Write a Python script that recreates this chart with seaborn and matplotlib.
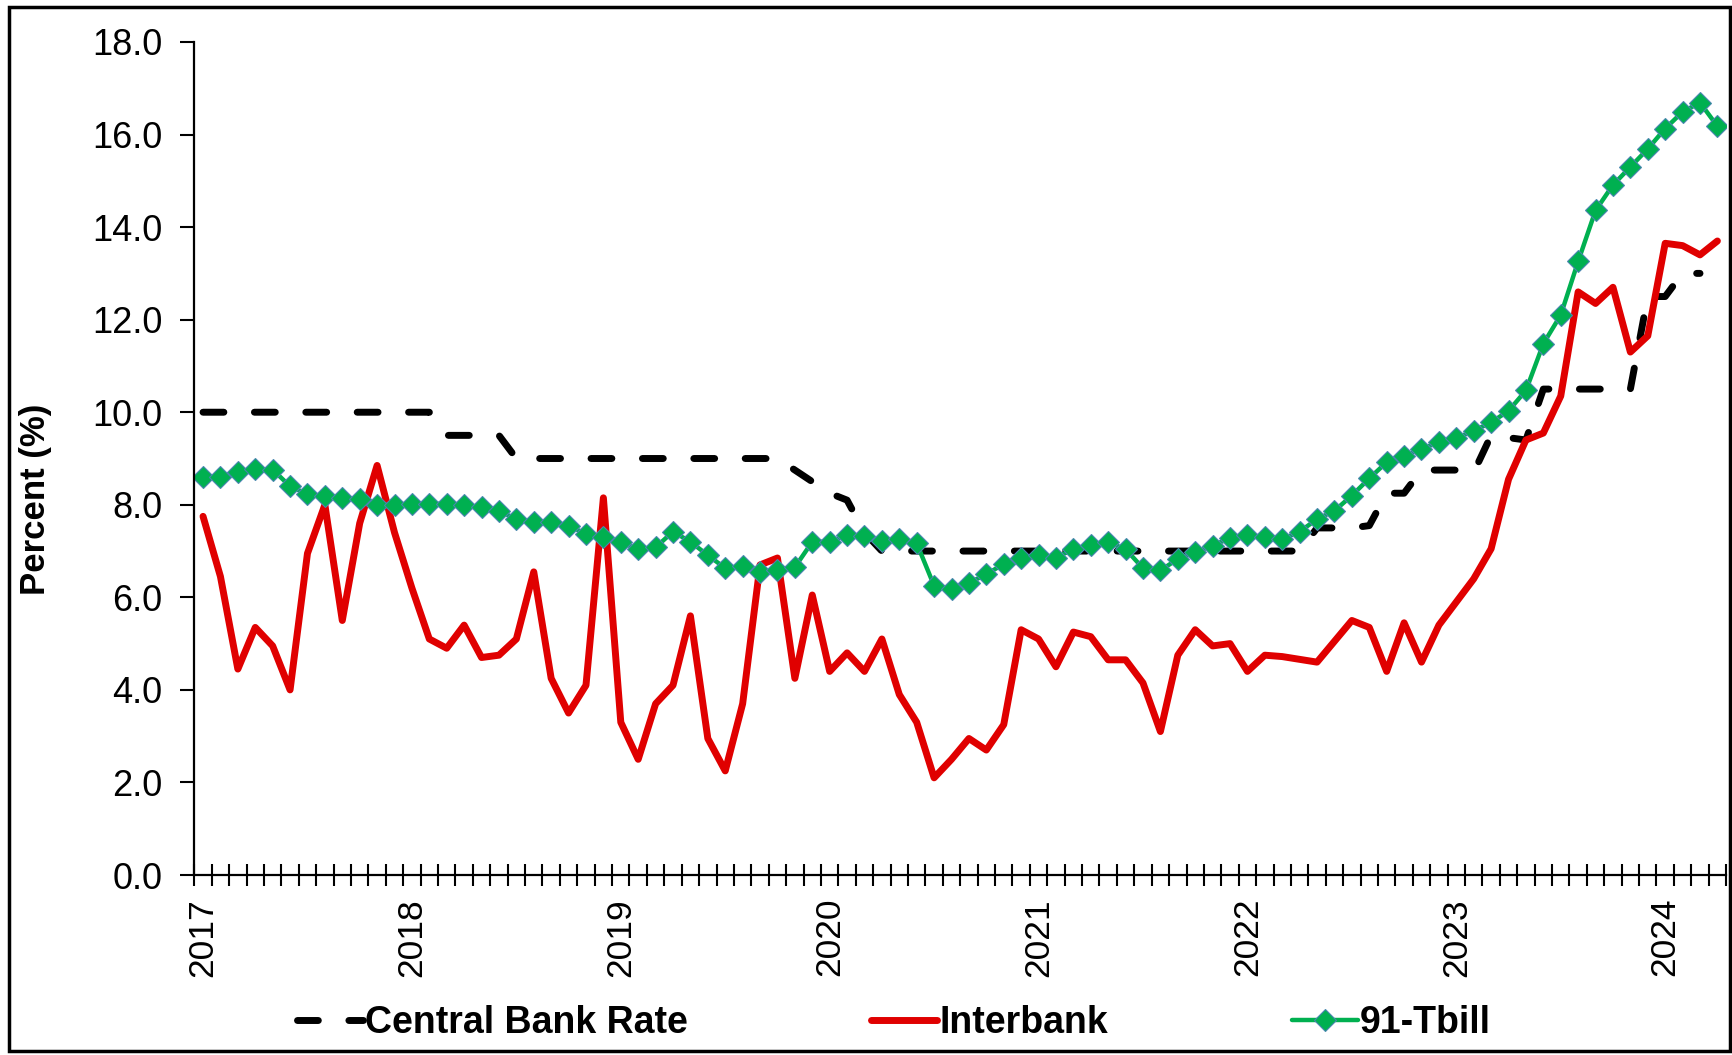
import matplotlib
matplotlib.use("Agg")
import matplotlib.pyplot as plt
from matplotlib.patches import Rectangle
from matplotlib.ticker import FixedLocator, FormatStrFormatter
import numpy as np
import pandas as pd
import seaborn as sns

# monthly, Jan 2017 .. Apr 2024
months = pd.date_range("2017-01-01", periods=88, freq="MS")
year_labels = ["2017", "2018", "2019", "2020", "2021", "2022", "2023", "2024"]

central_bank_rate = (
    [10.0] * 14 + [9.5] * 4 + [9.0] * 16
    + [8.75, 8.5, 8.25, 8.1, 7.4]
    + [7.0] * 25
    + [7.5, 7.5, 7.5, 7.55, 8.25, 8.25, 8.75, 8.75, 8.75, 8.7,
       9.5, 9.45, 9.4, 10.5, 10.5, 10.5, 10.5, 10.5, 10.5,
       12.5, 12.5, 13.0, 13.0]
)

interbank = [
    7.75, 6.45, 4.45, 5.35, 4.95, 4.0, 6.95, 8.0, 5.5, 7.6,
    8.85, 7.4, 6.2, 5.1, 4.9, 5.4, 4.7, 4.75, 5.1, 6.55,
    4.25, 3.5, 4.1, 8.15, 3.3, 2.5, 3.7, 4.1, 5.6, 2.95,
    2.25, 3.7, 6.7, 6.85, 4.25, 6.05, 4.4, 4.8, 4.4, 5.1,
    3.9, 3.3, 2.1, 2.5, 2.95, 2.7, 3.25, 5.3, 5.1, 4.5,
    5.25, 5.15, 4.65, 4.65, 4.15, 3.1, 4.75, 5.3, 4.95, 5.0,
    4.4, 4.75, 4.72, 4.66, 4.6, 5.05, 5.5, 5.35, 4.4, 5.45,
    4.6, 5.4, 5.9, 6.4, 7.05, 8.55, 9.4, 9.55, 10.35, 12.6,
    12.35, 12.7, 11.3, 11.65, 13.65, 13.6, 13.4, 13.7,
]

tbill_91 = [
    8.59, 8.61, 8.70, 8.77, 8.76, 8.40, 8.23, 8.18, 8.14, 8.13,
    8.00, 8.00, 8.02, 8.02, 8.02, 7.99, 7.95, 7.87, 7.69, 7.62,
    7.63, 7.55, 7.37, 7.30, 7.19, 7.04, 7.08, 7.42, 7.20, 6.91,
    6.63, 6.67, 6.55, 6.60, 6.65, 7.20, 7.20, 7.35, 7.32, 7.22,
    7.26, 7.17, 6.25, 6.19, 6.31, 6.50, 6.72, 6.86, 6.92, 6.86,
    7.04, 7.13, 7.19, 7.04, 6.63, 6.58, 6.83, 6.97, 7.12, 7.28,
    7.35, 7.30, 7.26, 7.42, 7.69, 7.87, 8.20, 8.57, 8.92, 9.06,
    9.21, 9.35, 9.44, 9.60, 9.78, 10.03, 10.47, 11.48, 12.10, 13.26,
    14.36, 14.91, 15.30, 15.69, 16.13, 16.49, 16.69, 16.18,
]

sns.set_style("white")
plt.rcParams["font.family"] = ["Liberation Sans", "DejaVu Sans"]
plt.rcParams["text.color"] = "black"

pos = np.arange(len(months))

fig = plt.figure(figsize=(17.32, 10.55), dpi=100)
ax = fig.add_axes([0.1122, 0.1706, 0.8844, 0.7896])

sns.lineplot(x=pos[:len(central_bank_rate)], y=central_bank_rate, ax=ax,
             color="black", linewidth=5, label="Central Bank Rate")
cbr_line = ax.lines[-1]
cbr_line.set_dashes((3, 4.4))
cbr_line.set_dash_capstyle("round")

sns.lineplot(x=pos, y=interbank, ax=ax, color="#E00000", linewidth=5,
             label="Interbank")

sns.lineplot(x=pos, y=tbill_91, ax=ax, color="#00B050", linewidth=3.2,
             marker="D", markersize=11, markeredgecolor="#4A86B0",
             markeredgewidth=0.8, label="91-Tbill")

ax.set_xlim(-0.5, len(months) - 0.5)
ax.set_ylim(0, 18)

for side in ["top", "right"]:
    ax.spines[side].set_visible(False)
for side in ["left", "bottom"]:
    ax.spines[side].set_linewidth(1.6)
    ax.spines[side].set_color("black")

ax.set_yticks(np.arange(0, 19, 2))
ax.yaxis.set_major_formatter(FormatStrFormatter("%.1f"))
ax.tick_params(axis="y", direction="out", length=10, width=1.5,
               labelsize=26, pad=13, colors="black", left=True)

ax.set_xticks(pos[::12])
ax.set_xticklabels(year_labels, rotation=90)
ax.xaxis.set_minor_locator(FixedLocator(np.arange(len(months) + 1) - 0.5))
ax.tick_params(axis="x", which="major", length=0, labelsize=25.5, pad=16.5,
               colors="black")
ax.tick_params(axis="x", which="minor", direction="inout", length=16,
               width=1.5, color="black", bottom=True)

ax.set_xlabel("")
ax.set_ylabel("")
fig.text(36 / 1732, 1 - 499 / 1055, "Percent (%)", rotation=90,
         ha="center", va="center", fontsize=25, fontweight="bold",
         color="black")

handles, labels = ax.get_legend_handles_labels()
ax.get_legend().remove()
fig.legend(handles, labels, loc="center", bbox_to_anchor=(0.516, 0.030),
           ncol=3, frameon=False, prop={"size": 27, "weight": "bold"},
           handlelength=1.76, handletextpad=0.05, columnspacing=4.9,
           borderaxespad=0, labelcolor="black")

fig.patches.append(Rectangle((9 / 1732, 4 / 1055), 1721 / 1732, 1044 / 1055,
                             transform=fig.transFigure, fill=False,
                             edgecolor="black", linewidth=2.5))

fig.savefig("out.png", dpi=100)
